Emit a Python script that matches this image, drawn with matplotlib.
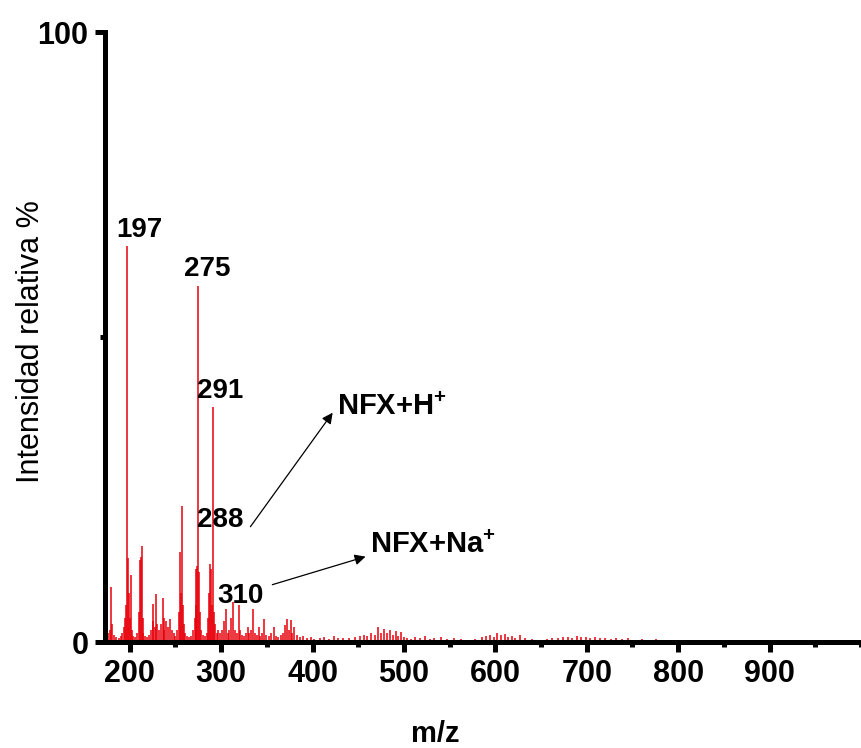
import matplotlib
matplotlib.use("Agg")
import matplotlib.pyplot as plt
from matplotlib.ticker import MultipleLocator, FixedLocator

plt.rcParams["font.family"] = ["Liberation Sans", "DejaVu Sans"]
plt.rcParams["mathtext.fontset"] = "custom"
plt.rcParams["mathtext.rm"] = "Liberation Sans"
plt.rcParams["mathtext.bf"] = "Liberation Sans:bold"

# Mass spectrum: m/z positions and relative intensities (%)
mz_low = [176, 178, 180, 181, 183, 185, 188, 190, 192, 194, 195, 196, 197, 198, 199,
          200, 201, 202, 204, 206, 208, 210, 211, 212, 213, 214, 215, 217, 219, 221,
          223, 225, 226, 228, 229, 230, 232, 234, 236, 237, 238, 240, 242, 244, 246,
          248, 250, 252, 254, 255, 256, 257, 258, 259, 261, 263, 265, 267, 269]
int_low = [1.5, 2.0, 9.0, 3.0, 1.2, 0.8, 0.6, 1.0, 1.5, 2.5, 4.0, 6.0, 65.0, 13.8, 8.0,
           4.0, 11.0, 2.0, 1.0, 0.8, 1.5, 5.0, 13.5, 14.0, 15.7, 4.0, 1.5, 1.0, 0.8, 1.2,
           2.0, 3.5, 6.2, 2.5, 7.8, 3.0, 2.0, 3.0, 7.2, 4.0, 2.0, 3.5, 2.5, 3.8, 2.0,
           1.5, 1.0, 2.0, 5.0, 14.8, 8.0, 22.3, 6.0, 3.0, 1.5, 1.0, 0.8, 1.0, 2.0]

mz_mid = [271, 272, 273, 274, 275, 276, 277, 278, 280, 282, 284, 286, 287, 288, 289,
          290, 291, 292, 293, 295, 297, 299, 301, 303, 305, 307, 309, 311, 313, 315,
          317, 319, 321, 323, 325, 327, 329, 331, 333, 335, 337, 339, 341, 343, 345,
          347, 349, 352, 355, 358, 360, 362, 365, 368, 370, 372, 374, 376, 378, 380,
          383, 386, 390, 394, 398]
int_mid = [4.0, 6.0, 12.0, 12.5, 58.4, 11.5, 5.0, 2.0, 1.2, 1.0, 1.5, 4.0, 8.0, 12.8, 12.0,
           6.0, 38.5, 5.0, 3.0, 1.5, 2.0, 1.5, 2.0, 3.5, 5.4, 1.5, 2.0, 4.0, 6.5, 2.0,
           1.5, 6.0, 2.0, 1.2, 1.0, 1.5, 2.5, 1.5, 2.0, 5.4, 1.5, 1.2, 2.5, 1.0, 1.5,
           3.8, 1.2, 1.0, 1.5, 2.5, 1.0, 0.8, 1.2, 1.5, 2.8, 3.8, 2.0, 3.6, 1.5, 2.5,
           1.2, 0.8, 1.0, 0.6, 0.8]

mz_high = [402, 408, 413, 418, 424, 428, 433, 440, 446, 452, 456, 460, 464, 468, 472,
           475, 478, 481, 485, 488, 491, 494, 497, 500, 503, 508, 512, 518, 523, 528,
           533, 540, 547, 555, 562, 570, 578, 585, 590, 594, 598, 602, 606, 610, 614,
           618, 622, 627, 632, 640, 648, 656, 662, 668, 674, 679, 684, 689, 694, 699,
           704, 709, 714, 720, 726, 732, 738, 745, 752, 760, 768, 776, 785, 795, 805,
           815, 825, 835, 845, 855, 870]
int_high = [0.5, 0.6, 0.8, 0.5, 1.0, 0.6, 0.7, 0.6, 0.8, 1.0, 1.2, 1.0, 1.5, 1.2, 2.4,
            1.5, 2.2, 1.4, 2.0, 1.2, 1.8, 1.0, 1.6, 0.8, 0.6, 0.5, 0.8, 0.6, 1.0, 0.5,
            0.6, 0.8, 0.5, 0.6, 0.5, 0.4, 0.5, 0.8, 1.0, 1.2, 0.9, 1.4, 1.1, 1.3, 0.8,
            1.0, 0.7, 1.1, 0.6, 0.5, 0.4, 0.5, 0.6, 0.7, 0.8, 0.9, 0.7, 1.0, 0.8, 0.9,
            0.7, 0.8, 0.6, 0.7, 0.5, 0.6, 0.5, 0.6, 0.4, 0.5, 0.4, 0.5, 0.3, 0.4, 0.3,
            0.4, 0.3, 0.3, 0.4, 0.3, 0.2]

# Peak labels: text and anchor (m/z, intensity)
peak_labels = ["197", "275", "291", "288", "310"]
peak_label_x = [211, 285, 299, 299, 321]
peak_label_y = [67.5, 61.1, 41.1, 20.0, 7.5]

# Ion annotations: text, text anchor, arrow tail and head
ion_labels = [r"NFX+H$^{\mathbf{+}}$", r"NFX+Na$^{\mathbf{+}}$"]
ion_text_xy = [(427, 38.6), (463, 15.9)]
arrow_tail = [(332, 18.9), (356, 9.4)]
arrow_head = [(422, 37.6), (458, 14.0)]

fig = plt.figure(figsize=(8.61, 7.48), dpi=100)
ax = fig.add_axes([0.122, 0.1417, 0.878, 0.8153])

for xs, ys in ((mz_low, int_low), (mz_mid, int_mid), (mz_high, int_high)):
    ax.vlines(xs, 0, ys, color="#e8000b", linewidth=1.1)

ax.set_xlim(173, 1000)
ax.set_ylim(0, 100)

for side in ("top", "right"):
    ax.spines[side].set_visible(False)
for side in ("left", "bottom"):
    ax.spines[side].set_linewidth(3.6)
    ax.spines[side].set_capstyle("projecting")

ax.xaxis.set_major_locator(FixedLocator([200, 300, 400, 500, 600, 700, 800, 900]))
ax.xaxis.set_minor_locator(MultipleLocator(50))
ax.yaxis.set_major_locator(FixedLocator([0, 100]))
ax.yaxis.set_minor_locator(FixedLocator([50]))
ax.tick_params(axis="both", which="major", direction="out", length=7, width=3.6,
               labelsize=22, pad=5)
ax.tick_params(axis="both", which="minor", direction="out", length=3.5, width=3.6)
for lab in ax.get_xticklabels() + ax.get_yticklabels():
    lab.set_fontweight("bold")

fig.text(0.036, 0.543, "Intensidad relativa %", fontsize=22, rotation=90,
         ha="center", va="center")
fig.text(0.505, 0.0, "m/z", fontsize=21, fontweight="bold", ha="center", va="bottom")

for t, x, y in zip(peak_labels, peak_label_x, peak_label_y):
    ax.text(x, y, t, fontsize=20, fontweight="bold", ha="center", va="center")

for t, (tx, ty), tail, head in zip(ion_labels, ion_text_xy, arrow_tail, arrow_head):
    ax.text(tx, ty, t, fontsize=21, fontweight="bold", ha="left", va="center")
    ax.annotate("", xy=head, xytext=tail,
                arrowprops=dict(arrowstyle="-|>", color="black", lw=0.9,
                                mutation_scale=16, shrinkA=0, shrinkB=0))

fig.savefig("out.png", dpi=100)
